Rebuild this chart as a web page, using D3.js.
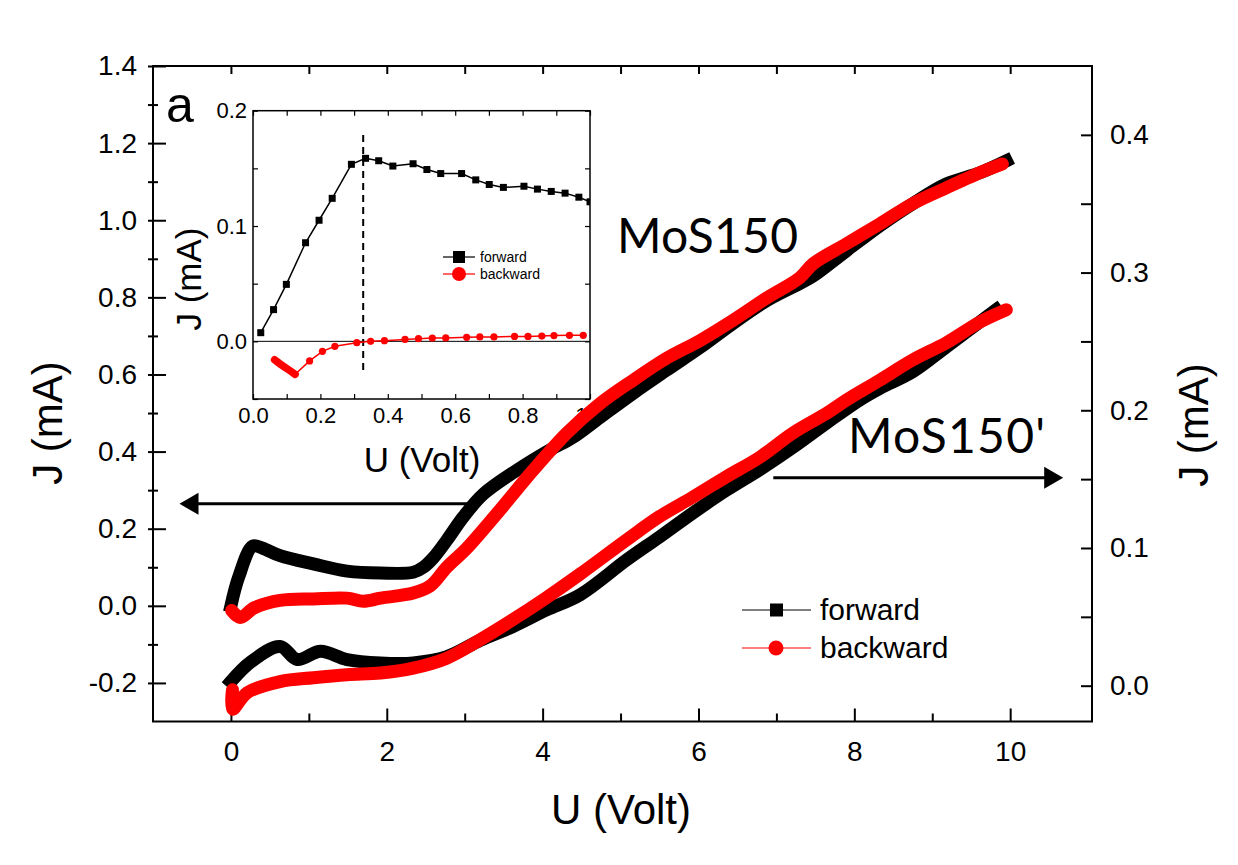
<!DOCTYPE html>
<html>
<head>
<meta charset="utf-8">
<script src="https://cdn.jsdelivr.net/npm/d3@7"></script>
<style>
  body { margin: 0; background: #fff; }
  svg { font-family: "Liberation Sans", Arial, sans-serif; }
</style>
</head>
<body>
<svg id="chart" width="1238" height="865"></svg>
<script>
// MoS150 (upper pair, left axis)
const topFwdU = [0, 0.1, 0.28, 0.4, 0.63, 1.07, 1.49, 1.92, 2.34, 2.47, 2.6, 2.77, 2.98, 3.24, 3.67, 4.09, 4.39, 4.74, 5.16, 5.59, 6.02, 6.44, 6.88, 7.3, 7.47, 7.9, 8.33, 8.75, 9.18, 9.61, 9.95];
const topFwdJ = [0, 0.075, 0.155, 0.15, 0.13, 0.108, 0.09, 0.085, 0.087, 0.1, 0.125, 0.17, 0.23, 0.29, 0.352, 0.404, 0.437, 0.489, 0.551, 0.611, 0.67, 0.732, 0.792, 0.836, 0.855, 0.921, 0.986, 1.043, 1.094, 1.123, 1.154];
const topBwdU = [0.01, 0.12, 0.3, 0.63, 1.06, 1.49, 1.7, 1.92, 2.34, 2.56, 2.77, 3.03, 3.45, 3.88, 4.31, 4.74, 5.16, 5.59, 6.02, 6.44, 6.88, 7.3, 7.47, 7.9, 8.33, 8.75, 9.18, 9.61, 9.9];
const topBwdJ = [-0.012, -0.03, -0.005, 0.014, 0.018, 0.02, 0.012, 0.02, 0.033, 0.052, 0.1, 0.15, 0.248, 0.352, 0.448, 0.525, 0.585, 0.642, 0.688, 0.74, 0.799, 0.851, 0.887, 0.939, 0.991, 1.043, 1.084, 1.123, 1.146];

// MoS150' (lower pair, right axis)
const lowFwdU = [0, 0.25, 0.63, 0.85, 1.15, 1.49, 1.92, 2.34, 2.77, 3.2, 3.62, 4.05, 4.48, 5.08, 5.5, 5.93, 6.36, 6.79, 7.21, 7.65, 8.07, 8.33, 8.75, 9.18, 9.82];
const lowFwdJ = [0.003, 0.017, 0.0285, 0.019, 0.025, 0.019, 0.0165, 0.0165, 0.021, 0.033, 0.043, 0.055, 0.066, 0.0914, 0.108, 0.1255, 0.142, 0.157, 0.173, 0.191, 0.2075, 0.216, 0.228, 0.246, 0.273];
const lowBwdU = [0.02, 0.02, 0.21, 0.63, 1.06, 1.49, 1.92, 2.34, 2.77, 3.2, 3.62, 4.05, 4.48, 5.08, 5.5, 5.93, 6.36, 6.79, 7.21, 7.65, 7.9, 8.33, 8.75, 9.18, 9.61, 9.95];
const lowBwdJ = [-0.003, -0.017, -0.005, 0.003, 0.0058, 0.008, 0.0092, 0.0128, 0.02, 0.0334, 0.048, 0.064, 0.081, 0.106, 0.1228, 0.137, 0.1518, 0.166, 0.1834, 0.198, 0.2075, 0.222, 0.2366, 0.249, 0.264, 0.273];

// inset: low-voltage zoom of MoS150
const insetFwdU = [0.023, 0.061, 0.099, 0.156, 0.196, 0.235, 0.292, 0.334, 0.373, 0.415, 0.475, 0.516, 0.557, 0.619, 0.661, 0.701, 0.743, 0.804, 0.844, 0.885, 0.926, 0.967, 1.0];
const insetFwdJ = [0.0075, 0.0275, 0.0494, 0.0855, 0.105, 0.124, 0.1535, 0.1587, 0.1566, 0.152, 0.154, 0.149, 0.1455, 0.1455, 0.14, 0.136, 0.1335, 0.1345, 0.132, 0.13, 0.1285, 0.125, 0.121];
const insetBwdU = [0.064, 0.08, 0.095, 0.11, 0.125, 0.168, 0.206, 0.243, 0.308, 0.349, 0.39, 0.451, 0.491, 0.532, 0.572, 0.634, 0.673, 0.715, 0.776, 0.816, 0.857, 0.893, 0.939, 0.98];
const insetBwdJ = [-0.016, -0.0195, -0.0225, -0.0255, -0.0286, -0.017, -0.0087, -0.0043, -0.0012, 0, 0.0006, 0.0017, 0.0023, 0.0029, 0.003, 0.0035, 0.0038, 0.0038, 0.0043, 0.0043, 0.0046, 0.005, 0.0052, 0.0052];
const insetDenseCount = 5; // first backward points sit on top of each other
const insetPeakU = 0.327; // dashed marker line

// tick values
const xMajor = [0, 2, 4, 6, 8, 10];
const xMinor = [1, 3, 5, 7, 9];
const xTop = [0, 1, 2, 3, 4, 5, 6, 7, 8, 9, 10];
const yLMajor = [-0.2, 0, 0.2, 0.4, 0.6, 0.8, 1.0, 1.2, 1.4];
const yLMinor = [-0.1, 0.1, 0.3, 0.5, 0.7, 0.9, 1.1, 1.3];
const yRMajor = [0, 0.1, 0.2, 0.3, 0.4];
const yRMinor = [0.05, 0.15, 0.25, 0.35];
const ixMajor = [0, 0.2, 0.4, 0.6, 0.8, 1.0];
const ixMinor = [0.1, 0.3, 0.5, 0.7, 0.9];
const iyMajor = [0, 0.1, 0.2];
const iyMinor = [-0.05, 0.05, 0.15];

const zip = (us, js) => us.map((u, i) => [u, js[i]]);
const fmt1 = (d) => d.toFixed(1);

const svg = d3.select('#chart');

// main scales
const x = d3.scaleLinear().domain([-1, 11.05]).range([153, 1092]);
const yL = d3.scaleLinear().domain([-0.3, 1.4]).range([721.5, 66]);
const yR = d3.scaleLinear().domain([-0.026, 0.45]).range([721.5, 66]);

// draw an axis group, drop its domain line, set tick styles
function axisGroup(axis, tx, ty, size) {
  return svg.append('g')
    .attr('transform', `translate(${tx},${ty})`)
    .call(axis)
    .call((g) => g.select('.domain').remove())
    .call((g) => g.selectAll('line').attr('stroke-width', 2))
    .attr('font-size', size || 28)
    .attr('font-family', '"Liberation Sans", Arial, sans-serif');
}

// main frame
svg.append('rect').attr('x', 153).attr('y', 66).attr('width', 939).attr('height', 655.5)
  .attr('fill', 'none').attr('stroke', '#000').attr('stroke-width', 2);

// bottom / top axes (ticks point inwards)
axisGroup(d3.axisBottom(x).tickValues(xMajor).tickSizeInner(-13).tickSizeOuter(0).tickPadding(20).tickFormat(d3.format('d')), 0, 721.5);
axisGroup(d3.axisBottom(x).tickValues(xMinor).tickSizeInner(-8).tickSizeOuter(0).tickFormat(''), 0, 721.5);
axisGroup(d3.axisTop(x).tickValues(xTop).tickSizeInner(-8).tickSizeOuter(0).tickFormat(''), 0, 66);

// left axis: ticks cross the frame line
axisGroup(d3.axisLeft(yL).tickValues(yLMajor).tickSizeInner(5).tickSizeOuter(0).tickPadding(11).tickFormat(fmt1), 153, 0);
axisGroup(d3.axisLeft(yL).tickValues(yLMajor).tickSizeInner(-13).tickSizeOuter(0).tickFormat(''), 153, 0);
axisGroup(d3.axisLeft(yL).tickValues(yLMinor).tickSizeInner(5).tickSizeOuter(0).tickFormat(''), 153, 0);
axisGroup(d3.axisLeft(yL).tickValues(yLMinor).tickSizeInner(-5).tickSizeOuter(0).tickFormat(''), 153, 0);

// right axis
axisGroup(d3.axisRight(yR).tickValues(yRMajor).tickSizeInner(-11).tickSizeOuter(0).tickPadding(18).tickFormat(fmt1), 1092, 0);
axisGroup(d3.axisRight(yR).tickValues(yRMinor).tickSizeInner(-11).tickSizeOuter(0).tickFormat(''), 1092, 0);

// axis titles
svg.append('text').attr('transform', 'translate(47,423) rotate(-90)')
  .attr('text-anchor', 'middle').attr('dominant-baseline', 'central')
  .attr('font-size', 42).text('J (mA)');
svg.append('text').attr('transform', 'translate(1193,425) rotate(-90)')
  .attr('text-anchor', 'middle').attr('dominant-baseline', 'central')
  .attr('font-size', 42).text('J (mA)');
svg.append('text').attr('x', 621).attr('y', 824)
  .attr('text-anchor', 'middle').attr('font-size', 42).text('U (Volt)');

// ---------- inset ----------
const ix = d3.scaleLinear().domain([0, 1]).range([253, 590]);
const iy = d3.scaleLinear().domain([-0.05, 0.2]).range([399, 110.7]);

svg.append('rect').attr('x', 253).attr('y', 110.7).attr('width', 337).attr('height', 288.3)
  .attr('fill', '#fff').attr('stroke', '#000').attr('stroke-width', 1.5);

svg.append('defs').append('clipPath').attr('id', 'insetClip')
  .append('rect').attr('x', 253).attr('y', 110.7).attr('width', 337).attr('height', 288.3);

function insetAxis(axis, tx, ty) {
  return axisGroup(axis, tx, ty, 22).call((g) => g.selectAll('line').attr('stroke-width', 1.2));
}
insetAxis(d3.axisBottom(ix).tickValues(ixMajor).tickSizeInner(-5).tickSizeOuter(0).tickPadding(8).tickFormat(fmt1), 0, 399);
insetAxis(d3.axisBottom(ix).tickValues(ixMinor).tickSizeInner(-5).tickSizeOuter(0).tickFormat(''), 0, 399);
insetAxis(d3.axisTop(ix).tickValues(ixMajor.concat(ixMinor)).tickSizeInner(-5).tickSizeOuter(0).tickFormat(''), 0, 110.7);
insetAxis(d3.axisLeft(iy).tickValues(iyMajor).tickSizeInner(-5).tickSizeOuter(0).tickPadding(6).tickFormat(fmt1), 253, 0);
insetAxis(d3.axisLeft(iy).tickValues(iyMinor).tickSizeInner(-5).tickSizeOuter(0).tickFormat(''), 253, 0);
insetAxis(d3.axisRight(iy).tickValues(iyMajor.concat(iyMinor)).tickSizeInner(-5).tickSizeOuter(0).tickFormat(''), 590, 0);

// zero line and dashed marker
svg.append('line').attr('x1', ix(0)).attr('x2', ix(1)).attr('y1', iy(0)).attr('y2', iy(0))
  .attr('stroke', '#000').attr('stroke-width', 1);
svg.append('line').attr('x1', ix(insetPeakU)).attr('x2', ix(insetPeakU))
  .attr('y1', iy(0.179)).attr('y2', iy(-0.027))
  .attr('stroke', '#000').attr('stroke-width', 2).attr('stroke-dasharray', '7,5');

const insetG = svg.append('g').attr('clip-path', 'url(#insetClip)');
const iline = d3.line().x((d) => ix(d[0])).y((d) => iy(d[1]));
const insetFwd = zip(insetFwdU, insetFwdJ);
const insetBwd = zip(insetBwdU, insetBwdJ);

insetG.append('path').datum(insetFwd).attr('d', iline)
  .attr('fill', 'none').attr('stroke', '#000').attr('stroke-width', 1.5);
insetG.selectAll('rect.ifwd').data(insetFwd).enter().append('rect').attr('class', 'ifwd')
  .attr('x', (d) => ix(d[0]) - 3.5).attr('y', (d) => iy(d[1]) - 3.5)
  .attr('width', 7).attr('height', 7).attr('fill', '#000');
insetG.append('path').datum(insetBwd).attr('d', iline)
  .attr('fill', 'none').attr('stroke', '#f00').attr('stroke-width', 1.5);
// the first backward markers overlap into a thick stroke
insetG.append('path').datum(insetBwd.slice(0, insetDenseCount)).attr('d', iline)
  .attr('fill', 'none').attr('stroke', '#f00').attr('stroke-width', 7.5).attr('stroke-linecap', 'round');
insetG.selectAll('circle.ibwd').data(insetBwd.slice(insetDenseCount)).enter().append('circle').attr('class', 'ibwd')
  .attr('cx', (d) => ix(d[0])).attr('cy', (d) => iy(d[1]))
  .attr('r', 3.6).attr('fill', '#f00');

// inset legend
svg.append('line').attr('x1', 443).attr('x2', 475).attr('y1', 257).attr('y2', 257).attr('stroke', '#000').attr('stroke-width', 1.2);
svg.append('rect').attr('x', 453).attr('y', 251).attr('width', 12).attr('height', 12).attr('fill', '#000');
svg.append('text').attr('x', 480).attr('y', 262).attr('font-size', 14).text('forward');
svg.append('line').attr('x1', 443).attr('x2', 475).attr('y1', 274).attr('y2', 274).attr('stroke', '#f00').attr('stroke-width', 1.2);
svg.append('circle').attr('cx', 459).attr('cy', 274).attr('r', 7).attr('fill', '#f00');
svg.append('text').attr('x', 480).attr('y', 279).attr('font-size', 14).text('backward');

// inset titles and panel letter
svg.append('text').attr('transform', 'translate(188,279) rotate(-90)')
  .attr('text-anchor', 'middle').attr('dominant-baseline', 'central')
  .attr('font-size', 35).text('J (mA)');
svg.append('text').attr('x', 422).attr('y', 472).attr('text-anchor', 'middle')
  .attr('font-size', 35).text('U (Volt)');
svg.append('text').attr('x', 166).attr('y', 122).attr('font-size', 50).text('a');

// ---------- main curves ----------
const smooth = d3.curveCatmullRom.alpha(0.5);
const lineL = d3.line().curve(smooth).x((d) => x(d[0])).y((d) => yL(d[1]));
const lineR = d3.line().curve(smooth).x((d) => x(d[0])).y((d) => yR(d[1]));

function band(data, gen, color, cap) {
  svg.append('path').datum(data).attr('d', gen)
    .attr('fill', 'none').attr('stroke', color).attr('stroke-width', 13)
    .attr('stroke-linejoin', 'round').attr('stroke-linecap', cap);
}
band(zip(topFwdU, topFwdJ), lineL, '#000', 'square');
band(zip(lowFwdU, lowFwdJ), lineR, '#000', 'square');
band(zip(topBwdU, topBwdJ), lineL, '#f00', 'round');
band(zip(lowBwdU, lowBwdJ), lineR, '#f00', 'round');

// arrows pointing to the axis each pair belongs to
function arrow(u0, u1, yPix, dir) {
  const tip = x(u1);
  svg.append('line').attr('x1', x(u0)).attr('x2', tip - dir * 10).attr('y1', yPix).attr('y2', yPix)
    .attr('stroke', '#000').attr('stroke-width', 3);
  svg.append('path')
    .attr('d', `M${tip},${yPix} L${tip - dir * 19},${yPix - 11} L${tip - dir * 19},${yPix + 11} Z`)
    .attr('fill', '#000');
}
arrow(3.04, -0.66, yL(0.2645), -1);
arrow(6.96, 10.68, yR(0.151), 1);

// sample labels
svg.append('text').attr('x', 617).attr('y', 253).attr('font-family', 'Lato, "Open Sans", sans-serif')
  .attr('font-size', 48).attr('textLength', 181).text('MoS150');
svg.append('text').attr('x', 848).attr('y', 453).attr('font-family', 'Lato, "Open Sans", sans-serif')
  .attr('font-size', 48).attr('textLength', 197).text("MoS150'");

// main legend
svg.append('line').attr('x1', 742).attr('x2', 811).attr('y1', 610).attr('y2', 610).attr('stroke', '#000').attr('stroke-width', 1.2);
svg.append('rect').attr('x', 770).attr('y', 603.5).attr('width', 13).attr('height', 13).attr('fill', '#000');
svg.append('text').attr('x', 820).attr('y', 620).attr('font-size', 30).text('forward');
svg.append('line').attr('x1', 742).attr('x2', 811).attr('y1', 648).attr('y2', 648).attr('stroke', '#f00').attr('stroke-width', 1.2);
svg.append('circle').attr('cx', 776).attr('cy', 648).attr('r', 7.5).attr('fill', '#f00');
svg.append('text').attr('x', 820).attr('y', 658).attr('font-size', 30).text('backward');
</script>
</body>
</html>
